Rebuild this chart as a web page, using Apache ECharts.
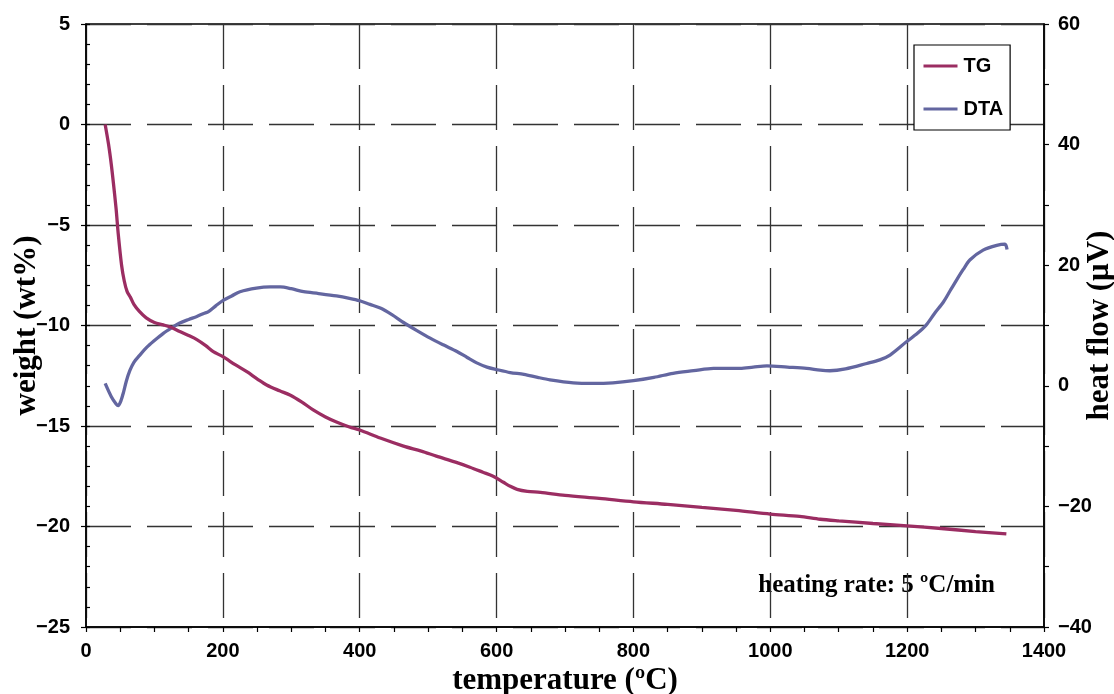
<!DOCTYPE html>
<html>
<head>
<meta charset="utf-8">
<script src="https://cdn.jsdelivr.net/npm/echarts@6/dist/echarts.min.js"></script>
<style>
html,body{margin:0;padding:0;background:#fff;}
#chart{width:1114px;height:694px;}
</style>
</head>
<body>
<div id="chart"></div>
<script>
// ---- data ----
const tgTemp = [28, 33, 37, 40, 44, 47, 52, 56, 60, 65, 70, 78, 88, 100, 113, 125, 137, 150, 162, 175, 186, 200, 218, 235, 250, 264, 283, 298, 315, 332, 350, 366, 385, 400, 430, 464, 490, 512, 540, 561, 580, 595, 610, 620, 630, 645, 664, 700, 750, 800, 850, 900, 950, 1000, 1043, 1073, 1100, 1150, 1200, 1250, 1300, 1345];
const tgWeight = [0, -1.0, -2.0, -2.9, -4.2, -5.4, -7.0, -7.8, -8.3, -8.6, -8.95, -9.3, -9.62, -9.85, -9.97, -10.1, -10.3, -10.5, -10.7, -11.0, -11.3, -11.55, -11.95, -12.3, -12.65, -12.96, -13.25, -13.46, -13.8, -14.2, -14.55, -14.8, -15.05, -15.2, -15.6, -16.0, -16.25, -16.5, -16.8, -17.05, -17.3, -17.5, -17.8, -18.0, -18.15, -18.25, -18.3, -18.45, -18.6, -18.77, -18.9, -19.05, -19.2, -19.38, -19.5, -19.64, -19.72, -19.85, -19.97, -20.1, -20.25, -20.37];

const dtaTemp = [28, 37, 44, 47, 51, 55, 59, 64, 70, 78, 89, 100, 113, 125, 137, 150, 162, 172, 179, 190, 201, 213, 225, 249, 269, 284, 300, 318, 340, 366, 385, 400, 415, 430, 447, 464, 483, 503, 522, 542, 557, 571, 586, 600, 620, 640, 660, 678, 712, 741, 770, 800, 830, 858, 888, 917, 956, 975, 995, 1025, 1053, 1073, 1087, 1110, 1141, 1160, 1175, 1199, 1215, 1228, 1240, 1253, 1263, 1272, 1282, 1292, 1311, 1331, 1343, 1346];
const dtaFlow = [0.4, -1.8, -3.0, -3.3, -2.5, -1.0, 0.8, 2.5, 3.9, 5.0, 6.4, 7.5, 8.7, 9.6, 10.4, 11.0, 11.5, 12.0, 12.3, 13.3, 14.2, 14.9, 15.6, 16.2, 16.4, 16.4, 16.1, 15.6, 15.3, 14.9, 14.5, 14.1, 13.5, 12.9, 11.8, 10.5, 9.2, 7.9, 6.8, 5.7, 4.7, 3.8, 3.1, 2.7, 2.2, 1.9, 1.4, 1.0, 0.5, 0.4, 0.5, 0.85, 1.4, 2.07, 2.5, 2.9, 2.9, 3.1, 3.3, 3.1, 2.9, 2.6, 2.5, 2.8, 3.7, 4.3, 5.1, 7.3, 8.7, 10.1, 12.0, 13.9, 15.8, 17.5, 19.3, 20.9, 22.5, 23.3, 23.5, 22.6];

const seriesNames = ['TG', 'DTA'];
const xName = 'temperature (ºC)';
const yLeftName = 'weight (wt%)';
const yRightName = 'heat flow (μV)';
const noteText = 'heating rate: 5 ºC/min';

// ---- chart ----
const minus = v => String(v).replace('-', '\u2212');
const sansLabel = {fontFamily: 'Liberation Sans, Arial, sans-serif', fontWeight: 'bold', fontSize: 20, color: '#000'};
const serifName = {fontFamily: 'Liberation Serif, Times New Roman, serif', fontWeight: 'bold', fontSize: 31, color: '#000'};
const gridDash = {show: true, lineStyle: {color: '#333', width: 1.3, type: [45, 16]}};

const chart = echarts.init(document.getElementById('chart'), null, {renderer: 'canvas'});
chart.setOption({
  animation: false,
  backgroundColor: '#fff',
  grid: {left: 86, right: 70, top: 24, bottom: 67, outerBoundsMode: 'none', containLabel: false,
         show: true, borderColor: '#000', borderWidth: 1.5, backgroundColor: 'transparent'},
  legend: {
    orient: 'vertical', left: 914, top: 45,
    data: seriesNames,
    backgroundColor: '#fff', borderColor: '#000', borderWidth: 1.2, borderRadius: 0,
    padding: [11, 7, 11, 8], itemGap: 23, itemWidth: 34, itemHeight: 14,
    itemStyle: {opacity: 0},
    lineStyle: {width: 3},
    textStyle: {fontFamily: 'Liberation Sans, Arial, sans-serif', fontWeight: 'bold', fontSize: 20, color: '#000', padding: [0, 0, 0, 1]}
  },
  xAxis: {
    type: 'value', min: 0, max: 1400, interval: 200,
    name: xName, nameLocation: 'middle', nameGap: 38, nameMoveOverlap: false, nameTextStyle: serifName,
    axisLine: {show: true, onZero: false, lineStyle: {color: '#000', width: 1.5}},
    axisTick: {show: true, inside: false, length: 5, lineStyle: {color: '#000', width: 1.2}},
    minorTick: {show: true, splitNumber: 4, length: 5, lineStyle: {color: '#000', width: 1.2}},
    axisLabel: Object.assign({margin: 14, formatter: v => String(v)}, sansLabel),
    splitLine: gridDash
  },
  yAxis: [
    {
      type: 'value', position: 'left', min: -25, max: 5, interval: 5,
      name: yLeftName, nameLocation: 'middle', nameGap: 44, nameRotate: 90, nameMoveOverlap: false, nameTextStyle: serifName,
      axisLine: {show: true, onZero: false, lineStyle: {color: '#000', width: 1.5}},
      axisTick: {show: true, inside: false, length: 5, lineStyle: {color: '#000', width: 1.2}},
      axisLabel: Object.assign({margin: 16, formatter: minus}, sansLabel),
      splitLine: gridDash
    },
    {
      type: 'value', position: 'right', min: -40, max: 60, interval: 20,
      name: yRightName, nameLocation: 'middle', nameGap: 40, nameRotate: 90, nameMoveOverlap: false, nameTextStyle: serifName,
      axisLine: {show: true, onZero: false, lineStyle: {color: '#000', width: 1.5}},
      axisTick: {show: true, inside: false, length: 5, lineStyle: {color: '#000', width: 1.2}},
      minorTick: {show: true, splitNumber: 2, length: 5, lineStyle: {color: '#000', width: 1.2}},
      axisLabel: Object.assign({margin: 14, formatter: minus}, sansLabel),
      splitLine: {show: false}
    },
    {
      type: 'value', position: 'left', min: -25, max: 5, interval: 1,
      axisLine: {show: false, onZero: false},
      axisTick: {show: true, inside: true, length: 4, lineStyle: {color: '#000', width: 1.2}},
      axisLabel: {show: false},
      splitLine: {show: false}
    }
  ],
  series: [
    {
      name: seriesNames[0], type: 'line', yAxisIndex: 0, smooth: 0.3, symbol: 'none',
      color: '#9b2d62', lineStyle: {color: '#9b2d62', width: 3.3},
      data: tgTemp.map((t, i) => [t, tgWeight[i]]), z: 3
    },
    {
      name: seriesNames[1], type: 'line', yAxisIndex: 1, smooth: 0.3, symbol: 'none',
      color: '#6366a0', lineStyle: {color: '#6366a0', width: 3.3},
      data: dtaTemp.map((t, i) => [t, dtaFlow[i]]), z: 2
    }
  ],
  graphic: [
    {
      type: 'text', right: 119, top: 573,
      style: {text: noteText, fill: '#000', font: 'bold 25px "Liberation Serif", "Times New Roman", serif'}
    }
  ]
});
</script>
</body>
</html>
